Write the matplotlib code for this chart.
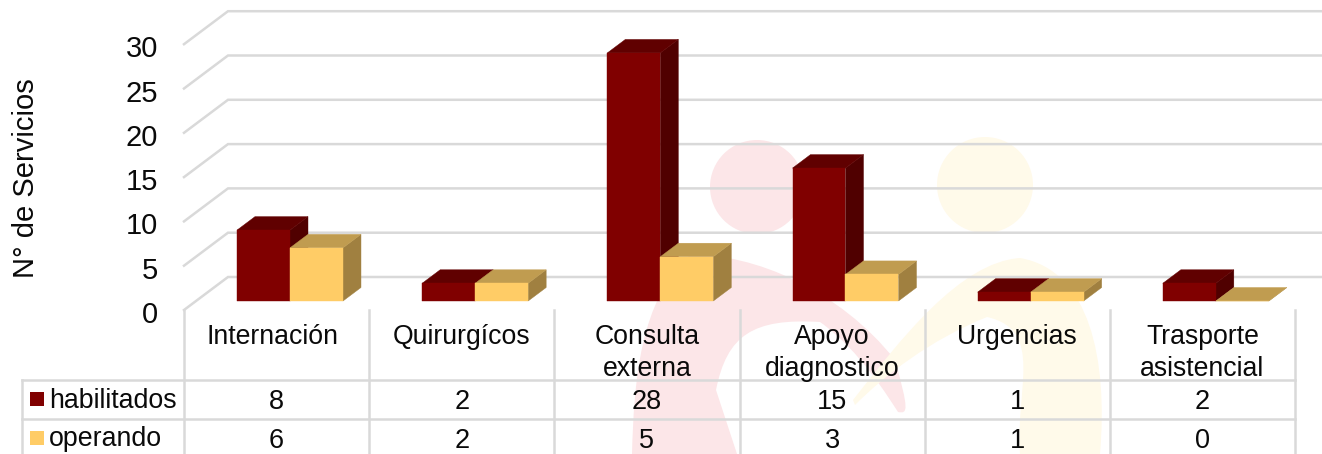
import matplotlib
matplotlib.use("Agg")
import matplotlib.pyplot as plt
from matplotlib.patches import Polygon, Ellipse, PathPatch
from matplotlib.path import Path
from matplotlib.transforms import ScaledTranslation

plt.rcParams['font.family'] = ['Liberation Sans', 'DejaVu Sans']

categorias = ['Internación', 'Quirurgícos', 'Consulta\nexterna', 'Apoyo\ndiagnostico', 'Urgencias', 'Trasporte\nasistencial']
habilitados = [8, 2, 28, 15, 1, 2]
operando = [6, 2, 5, 3, 1, 0]
ticks = [0, 5, 10, 15, 20, 25, 30]

W, H = 1322, 454
X0, X1 = 184, 1295   # piso frontal en pixeles
Y0 = 310
PX_VAL = 8.86        # pixeles por unidad
PX_CAT = (X1 - X0) / 6

GRID = '#d9d9d9'
TEXTO = '#0a0a0a'
ROJO = ['#800000', '#600000', '#500000']
AMAR = ['#ffcc66', '#c09c50', '#a08040']
ROSA = '#fce6e8'
CREMA = '#fffaea'

fig = plt.figure(figsize=(W / 100, H / 100), dpi=100)

# fondo con la marca de agua
bg = fig.add_axes([0, 0, 1, 1], zorder=0)
bg.set_xlim(0, W)
bg.set_ylim(H, 0)
bg.axis('off')
bg.add_patch(Ellipse((757, 187), 94, 94, color=ROSA, lw=0))
bg.add_patch(Ellipse((985, 185), 96, 96, color=CREMA, lw=0))
bg.add_patch(PathPatch(Path(
    [(632, 454), (634, 380), (640, 300), (690, 255), (753, 253), (840, 290), (895, 360), (909, 410),
     (908, 414), (898, 412), (890, 400), (860, 350), (820, 322), (753, 318), (727, 335), (716, 390), (737, 454),
     (632, 454)],
    [Path.MOVETO] + [Path.CURVE4] * 15 + [Path.LINETO, Path.CLOSEPOLY]),
    fc=ROSA, lw=0))
bg.add_patch(PathPatch(Path(
    [(853, 400), (900, 340), (960, 262), (1020, 258), (1090, 270), (1108, 360), (1100, 454),
     (1020, 454), (1015, 390), (1045, 330), (987, 317), (930, 340), (885, 375), (855, 405),
     (853, 400)],
    [Path.MOVETO] + [Path.CURVE4] * 6 + [Path.LINETO] + [Path.CURVE4] * 6 + [Path.CLOSEPOLY]),
    fc=CREMA, lw=0))

ax = fig.add_axes([X0 / W, (H - Y0) / H, (X1 - X0) / W, Y0 / H], zorder=1)
ax.patch.set_alpha(0)
ax.set_xlim(0, 6)
ax.set_ylim(0, Y0 / PX_VAL)
for s in ax.spines.values():
    s.set_visible(False)


def proy(x, y, z):
    # proyeccion oblicua: z es la profundidad en pixeles horizontales
    return x + z / PX_CAT, y + z * 0.75 / PX_VAL


# paredes: lineas de la grilla
for t in ticks:
    a = proy(0, t, 0)
    b = proy(0, t, 44)
    c = proy(6, t, 44)
    ax.plot([a[0], b[0], c[0]], [a[1], b[1], c[1]], color=GRID, lw=1.8, clip_on=False,
            solid_joinstyle='miter', zorder=1)

ancho = 53 / PX_CAT


def barra(x, v, cols, z):
    z1, z2 = 12, 30
    x2 = x + ancho
    caras = [
        ([proy(x2, 0, z1), proy(x2, 0, z2), proy(x2, v, z2), proy(x2, v, z1)], cols[2]),
        ([proy(x, v, z1), proy(x2, v, z1), proy(x2, v, z2), proy(x, v, z2)], cols[1]),
        ([proy(x, 0, z1), proy(x2, 0, z1), proy(x2, v, z1), proy(x, v, z1)], cols[0]),
    ]
    for pts, c in caras:
        ax.add_patch(Polygon(pts, closed=True, fc=c, ec=c, lw=0.3, clip_on=False, zorder=z))


for i in range(len(categorias)):
    izq = i + 41 / PX_CAT
    barra(izq, habilitados[i], ROJO, 3 + i * 0.1)
    barra(izq + ancho, operando[i], AMAR, 4 + i * 0.1)

# ejes
ax.set_xticks([])
ax.set_yticks(ticks)
ax.tick_params(axis='y', length=0, pad=18.5, labelsize=21, colors=TEXTO)
for l in ax.get_yticklabels():
    l.set_transform(l.get_transform() + ScaledTranslation(0, -0.02, fig.dpi_scale_trans))
ax.set_ylabel('N° de Servicios', fontsize=21, color=TEXTO)
ax.yaxis.set_label_coords((40.5 - X0) / (X1 - X0), 0.426)


# tabla de datos, y en pixeles de la figura
def fy(px):
    return (Y0 - px) / PX_VAL


fx_leg = (22 - X0) / PX_CAT
filas = [380, 419]
for i in range(7):
    ax.plot([i, i], [fy(Y0), fy(H)], color=GRID, lw=1.8, clip_on=False, zorder=1)
for p in filas:
    ax.plot([fx_leg, 6], [fy(p), fy(p)], color=GRID, lw=1.8, clip_on=False, zorder=1)
ax.plot([fx_leg, fx_leg], [fy(filas[0]), fy(H)], color=GRID, lw=1.8, clip_on=False, zorder=1)

for i, cat in enumerate(categorias):
    dx = -0.02 if i == 0 else 0
    ax.text(i + 0.5 + dx, fy(323.5), cat, ha='center', va='top', fontsize=19.2, color=TEXTO,
            linespacing=1.3, clip_on=False)
    ax.text(i + 0.5, fy(402), str(habilitados[i]), ha='center', va='center', fontsize=19.5,
            color=TEXTO, clip_on=False)
    ax.text(i + 0.5, fy(440.5), str(operando[i]), ha='center', va='center', fontsize=19.5,
            color=TEXTO, clip_on=False)

for py, nombre, c in [(399, 'habilitados', ROJO[0]), (438, 'operando', AMAR[0])]:
    ax.add_patch(Polygon([((30 - X0) / PX_CAT, fy(py - 7)), ((44 - X0) / PX_CAT, fy(py - 7)),
                          ((44 - X0) / PX_CAT, fy(py + 7)), ((30 - X0) / PX_CAT, fy(py + 7))],
                         closed=True, fc=c, ec='none', clip_on=False))
    ax.text((49 - X0) / PX_CAT, fy(py + 1.5), nombre, ha='left', va='center', fontsize=19.3,
            color=TEXTO, clip_on=False)

fig.savefig('out.png', dpi=100)
